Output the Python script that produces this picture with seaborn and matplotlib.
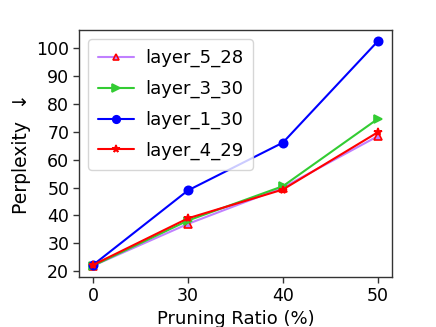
import numpy as np
import pandas as pd
import seaborn as sns
import matplotlib
matplotlib.use("Agg")
import matplotlib.pyplot as plt

# pruning ratios (categorical x positions)
ratios = ["0", "30", "40", "50"]

layer_5_28 = [22.0, 37.0, 50.0, 68.4]
layer_3_30 = [22.0, 38.2, 50.5, 74.6]
layer_1_30 = [22.3, 49.0, 66.1, 102.4]
layer_4_29 = [22.3, 39.0, 49.3, 69.8]

series = ["layer_5_28", "layer_3_30", "layer_1_30", "layer_4_29"]
values = [layer_5_28, layer_3_30, layer_1_30, layer_4_29]

rows = []
for name, vals in zip(series, values):
    for i, v in enumerate(vals):
        rows.append({"pos": i, "ratio": ratios[i], "ppl": v, "layer": name})
df = pd.DataFrame(rows)

sns.set_style("ticks", rc={"text.color": "black", "axes.labelcolor": "black",
                           "xtick.color": "black", "ytick.color": "black",
                           "axes.edgecolor": "#333333"})
plt.rcParams["font.family"] = ["DejaVu Sans"]

fig, ax = plt.subplots(figsize=(4.36, 3.27), dpi=100)
fig.subplots_adjust(left=0.181, right=0.899, top=0.908, bottom=0.153)

styles = {
    "layer_5_28": dict(color="#c080ff", marker="^", mec="red", mfc="#c080ff", ms=5.5),
    "layer_3_30": dict(color="#33cc33", marker=">", mec="#33cc33", mfc="#33cc33", ms=6),
    "layer_1_30": dict(color="blue", marker="o", mec="blue", mfc="blue", ms=6),
    "layer_4_29": dict(color="red", marker="*", mec="red", mfc="red", ms=6),
}

for name in series:
    st = styles[name]
    sns.lineplot(data=df[df["layer"] == name], x="pos", y="ppl", ax=ax,
                 color=st["color"], marker=st["marker"], markersize=st["ms"],
                 markeredgecolor=st["mec"], markerfacecolor=st["mfc"],
                 markeredgewidth=1.2, linewidth=1.5, label=name)

ax.set_xticks(range(len(ratios)))
ax.set_xticklabels(ratios)
ax.set_yticks(np.arange(20, 101, 10))
ax.tick_params(labelsize=12.5, length=4, width=1, color="#333333", pad=3)
for sp in ax.spines.values():
    sp.set_color("#333333")
    sp.set_linewidth(1)

ax.set_xlabel("Pruning Ratio (%)", fontsize=13, labelpad=3.5)
ax.set_ylabel("Perplexity  \u2193", fontsize=13.5, labelpad=3.5)

ax.legend(loc="upper left", fontsize=13, handlelength=2, frameon=True,
          borderpad=0.55, labelspacing=0.7, handletextpad=0.6,
          framealpha=0.8, edgecolor="#cccccc", fancybox=True,
          markerscale=0.9)

plt.savefig("out.png", dpi=100)
